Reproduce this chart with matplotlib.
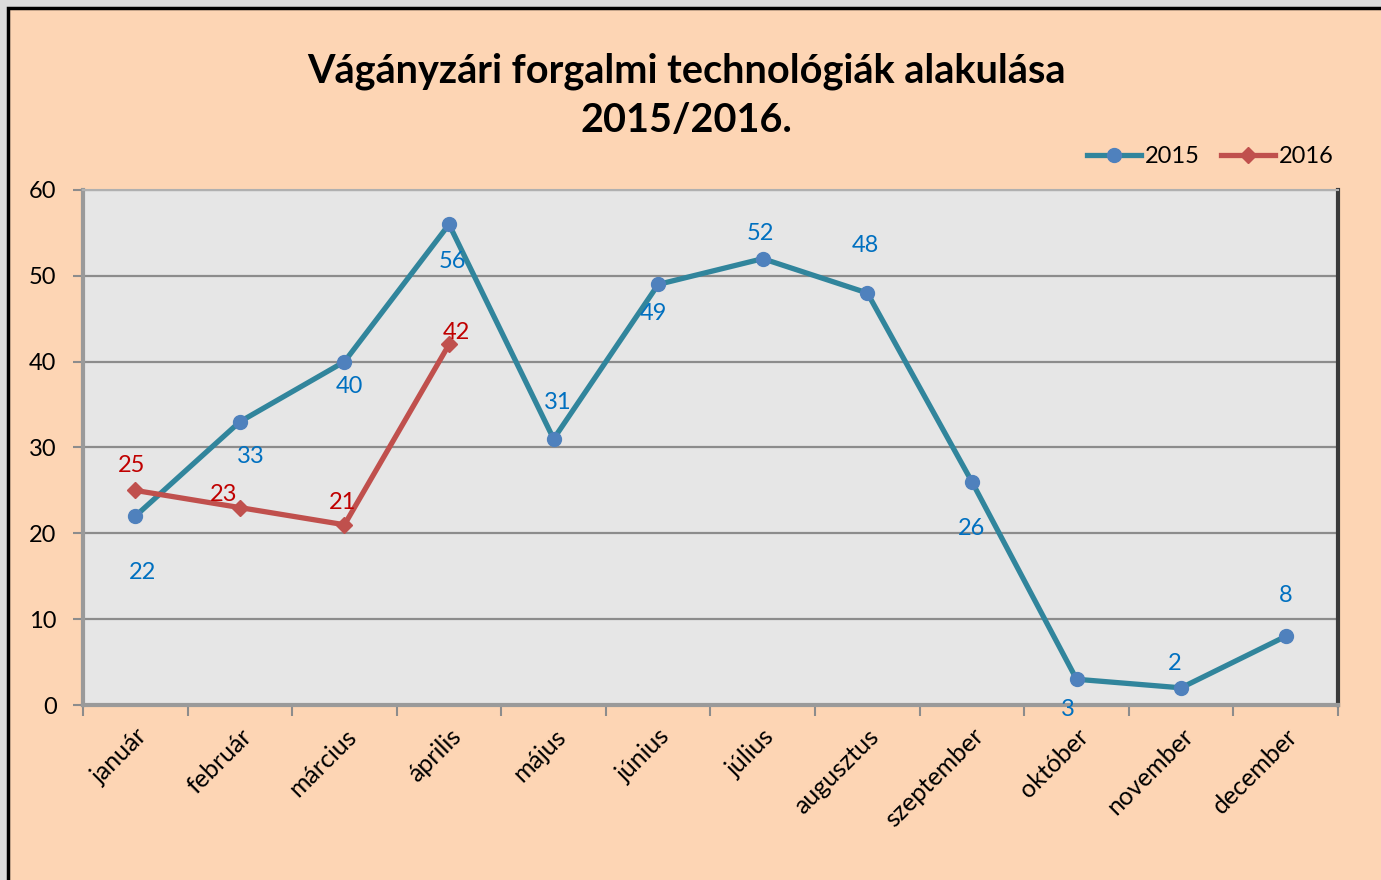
import matplotlib
matplotlib.use('Agg')
import matplotlib.pyplot as plt
from matplotlib.patches import Rectangle

months = ['január', 'február', 'március', 'április', 'május', 'június',
          'július', 'augusztus', 'szeptember', 'október', 'november', 'december']
vals_2015 = [22, 33, 40, 56, 31, 49, 52, 48, 26, 3, 2, 8]
vals_2016 = [25, 23, 21, 42]

# label offsets in pixels (dx, dy), picked by eye from the original
off_2015 = [(7, -56), (11, -35), (5, -25), (3, -37), (4, 36), (-5, -29),
            (-2, 25), (-2, 48), (0, -47), (-9, -30), (-6, 24), (0, 41)]
off_2016 = [(-4, 25), (-16, 13), (-2, 22), (7, 12)]

plt.rcParams['font.family'] = ['Lato', 'DejaVu Sans']

bg = '#fdd5b4'
fig = plt.figure(figsize=(13.81, 8.80), dpi=100, facecolor='#dcdcdc')
# page frame: grey margin, black border, peach fill
frame = Rectangle((8 / 1381, -0.01), 1.02, 1.01 - 8 / 880, transform=fig.transFigure,
                  facecolor=bg, edgecolor='black', linewidth=2.5, zorder=-5)
fig.add_artist(frame)

ax = fig.add_axes([83 / 1381, 1 - 705 / 880, 1255 / 1381, 515 / 880])
ax.set_facecolor('#e6e6e6')

x = list(range(len(months)))
ax.plot(x, vals_2015, color='#31859c', lw=3.8, marker='o', ms=10,
        mfc='#4f81bd', mec='#4f81bd', label='2015', zorder=3)
ax.plot(x[:len(vals_2016)], vals_2016, color='#c0504d', lw=3.8, marker='D', ms=8,
        mfc='#c0504d', mec='#c0504d', label='2016', zorder=4)

for i, v in enumerate(vals_2015):
    ax.annotate(str(v), (i, v), xytext=off_2015[i], textcoords='offset pixels',
                ha='center', va='center', color='#0070c0', fontsize=17, zorder=5)
for i, v in enumerate(vals_2016):
    ax.annotate(str(v), (i, v), xytext=off_2016[i], textcoords='offset pixels',
                ha='center', va='center', color='#c00000', fontsize=17, zorder=5)

ax.set_xlim(-0.5, len(months) - 0.5)
ax.set_ylim(0, 60)
ax.set_yticks(range(0, 61, 10))
ax.yaxis.grid(True, color='#8c8c8c', lw=1.6)
ax.set_axisbelow(True)
ax.tick_params(axis='y', length=7, width=1.5, color='#8c8c8c', labelsize=17, pad=12)

ax.set_xticks(x)
ax.set_xticklabels(months, rotation=45, ha='right', va='top', rotation_mode='anchor', fontsize=18)
for lbl in ax.get_xticklabels():
    lbl.set_x(lbl.get_position()[0])
ax.set_xticks([i - 0.5 for i in range(len(months) + 1)], minor=True)
ax.tick_params(axis='x', which='major', length=0, pad=14)
ax.tick_params(axis='x', which='minor', length=8, width=1.5, color='#8c8c8c')

for side in ['left', 'bottom']:
    ax.spines[side].set_color('#9a9a9a')
    ax.spines[side].set_linewidth(3)
ax.spines['top'].set_color('#b0b0b0')
ax.spines['top'].set_linewidth(1.5)
ax.spines['right'].set_color('#3a3a3a')
ax.spines['right'].set_linewidth(3)

fig.text(686 / 1381, 1 - 96 / 880, 'Vágányzári forgalmi technológiák alakulása\n2015/2016.',
         ha='center', va='center', fontsize=28.5, fontweight='bold', linespacing=1.4)

ax.legend(loc='lower right', bbox_to_anchor=(1.0, 1.035), ncol=2, frameon=False,
          fontsize=17, handlelength=2.3, handletextpad=0.15, columnspacing=0.9,
          borderaxespad=0, borderpad=0.2)

fig.savefig('out.png', dpi=100, facecolor=fig.get_facecolor())
